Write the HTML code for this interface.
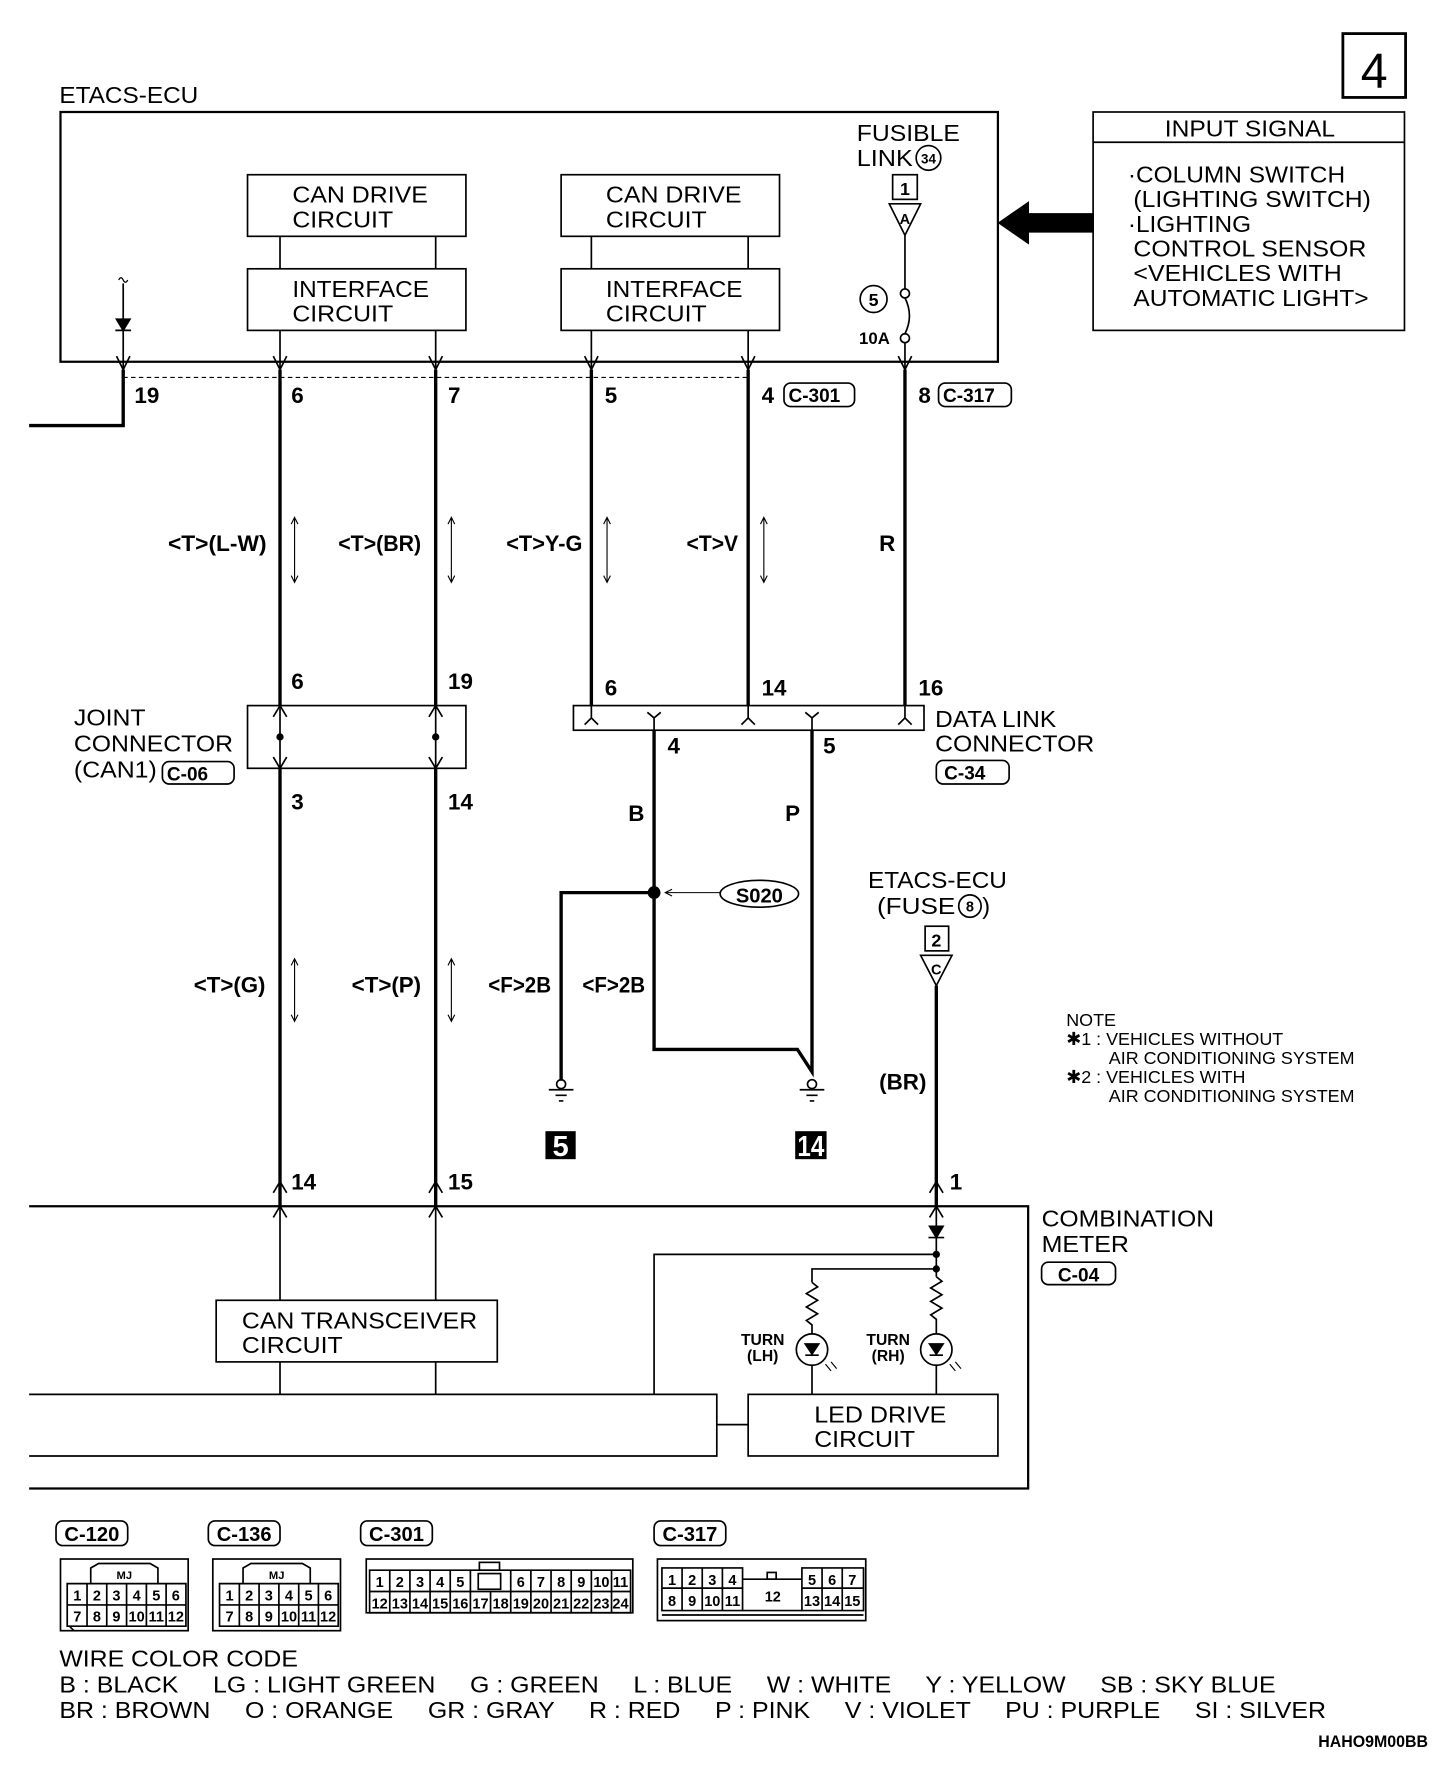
<!DOCTYPE html>
<html><head><meta charset="utf-8"><style>
html,body{margin:0;padding:0;background:#fff}
svg{display:block}
text{font-family:"Liberation Sans",sans-serif;fill:#000}
.b{font-weight:bold}
.pre{white-space:pre}
</style></head><body>
<svg width="1456" height="1768" viewBox="0 0 1300 1578.6" xmlns="http://www.w3.org/2000/svg">
<g fill="none" stroke="#000" stroke-width="1.5">
<rect x="1199" y="30" width="56" height="57" stroke-width="2.5"/>
<rect x="54" y="100" width="837" height="223" stroke-width="2"/>
<rect x="221" y="156" width="195" height="55"/>
<rect x="501" y="156" width="195" height="55"/>
<rect x="221" y="240" width="195" height="55"/>
<rect x="501" y="240" width="195" height="55"/>
<path d="M250 211V240M389 211V240M528 211V240M668 211V240"/>
<path d="M250 295V330M389 295V330M528 295V330M668 295V330M110 253V330"/>
<path d="M106 250q2-4 4 0t4 0" stroke-width="1.2"/>
<path d="M104 285h12l-6 10z" fill="#000"/><path d="M103 295h14"/>
<path d="M104 318L110 330L116 318M244 318L250 330L256 318M383 318L389 330L395 318M522 318L528 330L534 318M662 318L668 330L674 318M802 318L808 330L814 318"/>
<path d="M110 337H668" stroke-dasharray="4 3" stroke-width="1"/>
<rect x="797" y="156" width="22" height="22"/>
<path d="M794 182H822L808 210Z"/>
<path d="M808 210V258"/>
<circle cx="808" cy="262" r="4"/><circle cx="808" cy="302" r="4"/>
<path d="M808 266q8 16 0 32"/>
<path d="M808 306V330"/>
<circle cx="780" cy="267" r="12"/>
<circle cx="829" cy="141" r="11"/>
<rect x="976" y="100" width="278" height="195"/>
<path d="M976 127H1254"/>
<path d="M976 191H918V181L892 199L918 217V207H976Z" fill="#000"/>
<g stroke-width="3">
<path d="M110 330V380H26"/>
<path d="M250 330V630M389 330V630M528 330V630M668 330V630M808 330V630"/>
<path d="M250 686V1077M389 686V1077"/>
<path d="M584 652V937H712L725 957V652"/>
<path d="M584 797H501V965"/>
<path d="M836 880V1077"/>
</g>
<g stroke-width="1">
<path d="M263 462V520M260 468L263 462L266 468M260 514L263 520L266 514"/>
<path d="M403 462V520M400 468L403 462L406 468M400 514L403 520L406 514"/>
<path d="M542 462V520M539 468L542 462L545 468M539 514L542 520L545 514"/>
<path d="M682 462V520M679 468L682 462L685 468M679 514L682 520L685 514"/>
<path d="M263 856V912M260 862L263 856L266 862M260 906L263 912L266 906"/>
<path d="M403 856V912M400 862L403 856L406 862M400 906L403 912L406 906"/>
</g>
<rect x="700" y="342" width="63" height="21" rx="6"/>
<rect x="838" y="342" width="65" height="21" rx="6"/>
<rect x="221" y="630" width="195" height="56"/>
<path d="M244 640L250 630L256 640M383 640L389 630L395 640M244 676L250 686L256 676M383 676L389 686L395 676"/>
<path d="M250 630V686M389 630V686"/>
<circle cx="250" cy="658" r="2.5" fill="#000"/><circle cx="389" cy="658" r="2.5" fill="#000"/>
<rect x="145" y="680" width="64" height="20" rx="6"/>
<rect x="512" y="630" width="313" height="22"/>
<path d="M522 647L528 641L534 647M662 647L668 641L674 647M802 647L808 641L814 647M528 630V641M668 630V641M808 630V641"/>
<path d="M578 636L584 641L590 636M719 636L725 641L731 636M584 641V652M725 641V652"/>
<rect x="836" y="679" width="65" height="21" rx="6"/>
<circle cx="584" cy="797" r="5" fill="#000"/>
<path d="M595 797H643M600 794L594 797L600 800" stroke-width="1"/>
<ellipse cx="678" cy="798" rx="35" ry="12"/>
<circle cx="501" cy="968" r="4"/><path d="M490 973H512M496 978H506M499 983H503"/>
<circle cx="725" cy="968" r="4"/><path d="M714 973H736M720 978H730M723 983H727"/>
<circle cx="866" cy="809" r="10"/>
<rect x="826" y="827" width="21" height="22"/>
<path d="M822 853H850L836 880Z"/>
<path d="M26 1077H918V1329H26" stroke-width="2"/>
<path d="M244 1065L250 1055L256 1065M383 1065L389 1055L395 1065M830 1065L836 1055L842 1065"/>
<path d="M244 1087L250 1077L256 1087M383 1087L389 1077L395 1087M830 1087L836 1077L842 1087"/>
<path d="M250 1077V1161M389 1077V1161M250 1216V1245M389 1216V1245"/>
<rect x="193" y="1161" width="251" height="55"/>
<path d="M26 1245H640V1300H26"/>
<path d="M640 1272H668"/>
<rect x="668" y="1245" width="223" height="55"/>
<path d="M836 1077V1140"/>
<path d="M830 1095h12l-6 10z" fill="#000"/><path d="M829 1105h14"/>
<circle cx="836" cy="1120" r="2.5" fill="#000"/>
<circle cx="836" cy="1133" r="2.5" fill="#000"/>
<path d="M836 1120H584V1245M836 1133H725V1145"/>
<path d="M725 1145l5 4l-10 6l10 6l-10 6l10 6l-10 6l5 4V1191M836 1140l5 4l-10 6l10 6l-10 6l10 6l-10 6l5 4V1191"/>
<circle cx="725" cy="1205" r="14"/><circle cx="836" cy="1205" r="14"/>
<path d="M719 1200h12l-6 9z" fill="#000"/><path d="M719 1210h12"/>
<path d="M830 1200h12l-6 9z" fill="#000"/><path d="M830 1210h12"/>
<path d="M725 1219V1245M836 1219V1245"/>
<path d="M737 1218l5 6M742 1216l5 6M848 1218l5 6M853 1216l5 6" stroke-width="1"/>
<rect x="930" y="1127" width="66" height="20" rx="6"/>
<rect x="50" y="1358" width="64" height="22" rx="6"/>
<rect x="186" y="1358" width="64" height="22" rx="6"/>
<rect x="322" y="1358" width="64" height="22" rx="6"/>
<rect x="584" y="1358" width="64" height="22" rx="6"/>
<rect x="54" y="1392" width="114" height="64"/>
<path d="M60 1414H166V1452H60ZM60 1433H166M77.7 1414V1452M95.3 1414V1452M113 1414V1452M130.7 1414V1452M148.3 1414V1452M81 1414V1400L88 1396H134L141 1400V1414M62 1452L66 1456"/>
<rect x="190" y="1392" width="114" height="64"/>
<path d="M196 1414H302V1452H196ZM196 1433H302M213.7 1414V1452M231.3 1414V1452M249 1414V1452M266.7 1414V1452M284.3 1414V1452M217 1414V1400L224 1396H270L277 1400V1414"/>
<rect x="327" y="1392" width="238" height="48"/>
<path d="M330 1402H563V1440H330ZM330 1421H563"/>
<path d="M348 1402V1440M366 1402V1440M384 1402V1440M402 1402V1440M420 1402V1440M438 1421V1440M456 1402V1440M474 1402V1440M492 1402V1440M510 1402V1440M528 1402V1440M546 1402V1440"/>
<rect x="428" y="1395" width="18" height="7"/><rect x="427" y="1405" width="20" height="14"/>
<rect x="587" y="1392" width="186" height="55"/>
<path d="M591 1400H663V1438H591ZM591 1418H663M609 1400V1438M627 1400V1438M645 1400V1438"/>
<path d="M716 1400H771V1438H716ZM716 1418H771M734 1400V1438M752 1400V1438"/>
<path d="M663 1410H716M663 1438H716M591 1442H771"/>
<rect x="685" y="1404" width="8" height="6"/>
</g>
<rect x="487" y="1010" width="27" height="25" fill="#000"/>
<rect x="710" y="1010" width="28" height="25" fill="#000"/>
<text x="500.5" y="1032" font-size="26" class="b" text-anchor="middle" style="fill:#fff">5</text>
<text x="724" y="1032" font-size="26" class="b" text-anchor="middle" style="fill:#fff" textLength="24" lengthAdjust="spacingAndGlyphs">14</text>

<text x="1227" y="78" font-size="44" text-anchor="middle" textLength="24" lengthAdjust="spacingAndGlyphs">4</text>
<g font-size="21">
<text x="53" y="92" textLength="124" lengthAdjust="spacingAndGlyphs">ETACS-ECU</text>
<text x="261" y="181" textLength="121" lengthAdjust="spacingAndGlyphs">CAN DRIVE</text>
<text x="261" y="203" textLength="90" lengthAdjust="spacingAndGlyphs">CIRCUIT</text>
<text x="541" y="181" textLength="121" lengthAdjust="spacingAndGlyphs">CAN DRIVE</text>
<text x="541" y="203" textLength="90" lengthAdjust="spacingAndGlyphs">CIRCUIT</text>
<text x="261" y="265" textLength="122" lengthAdjust="spacingAndGlyphs">INTERFACE</text>
<text x="261" y="287" textLength="90" lengthAdjust="spacingAndGlyphs">CIRCUIT</text>
<text x="541" y="265" textLength="122" lengthAdjust="spacingAndGlyphs">INTERFACE</text>
<text x="541" y="287" textLength="90" lengthAdjust="spacingAndGlyphs">CIRCUIT</text>
<text x="765" y="126" textLength="92" lengthAdjust="spacingAndGlyphs">FUSIBLE</text>
<text x="765" y="148" textLength="50" lengthAdjust="spacingAndGlyphs">LINK</text>
<text x="1040" y="122" textLength="152" lengthAdjust="spacingAndGlyphs">INPUT SIGNAL</text>
<text x="1007" y="163" textLength="194" lengthAdjust="spacingAndGlyphs">·COLUMN SWITCH</text>
<text x="1012" y="185" textLength="212" lengthAdjust="spacingAndGlyphs">(LIGHTING SWITCH)</text>
<text x="1007" y="207" textLength="110" lengthAdjust="spacingAndGlyphs">·LIGHTING</text>
<text x="1012" y="229" textLength="208" lengthAdjust="spacingAndGlyphs">CONTROL SENSOR</text>
<text x="1012" y="251" textLength="186" lengthAdjust="spacingAndGlyphs">&lt;VEHICLES WITH</text>
<text x="1012" y="273" textLength="210" lengthAdjust="spacingAndGlyphs">AUTOMATIC LIGHT&gt;</text>
<text x="66" y="648" textLength="64" lengthAdjust="spacingAndGlyphs">JOINT</text>
<text x="66" y="671" textLength="142" lengthAdjust="spacingAndGlyphs">CONNECTOR</text>
<text x="66" y="694" textLength="74" lengthAdjust="spacingAndGlyphs">(CAN1)</text>
<text x="835" y="649" textLength="108" lengthAdjust="spacingAndGlyphs">DATA LINK</text>
<text x="835" y="671" textLength="142" lengthAdjust="spacingAndGlyphs">CONNECTOR</text>
<text x="775" y="793" textLength="124" lengthAdjust="spacingAndGlyphs">ETACS-ECU</text>
<text x="783" y="816" textLength="70" lengthAdjust="spacingAndGlyphs">(FUSE</text>
<text x="877" y="816">)</text>
<text x="930" y="1095" textLength="154" lengthAdjust="spacingAndGlyphs">COMBINATION</text>
<text x="930" y="1118" textLength="78" lengthAdjust="spacingAndGlyphs">METER</text>
<text x="216" y="1186" textLength="210" lengthAdjust="spacingAndGlyphs">CAN TRANSCEIVER</text>
<text x="216" y="1208" textLength="90" lengthAdjust="spacingAndGlyphs">CIRCUIT</text>
<text x="727" y="1270" textLength="118" lengthAdjust="spacingAndGlyphs">LED DRIVE</text>
<text x="727" y="1292" textLength="90" lengthAdjust="spacingAndGlyphs">CIRCUIT</text>
<text x="53" y="1488" textLength="213" lengthAdjust="spacingAndGlyphs">WIRE COLOR CODE</text>
<text class="pre" xml:space="preserve" x="53" y="1511" textLength="1086" lengthAdjust="spacingAndGlyphs">B : BLACK     LG : LIGHT GREEN     G : GREEN     L : BLUE     W : WHITE     Y : YELLOW     SB : SKY BLUE</text>
<text class="pre" xml:space="preserve" x="53" y="1534" textLength="1131" lengthAdjust="spacingAndGlyphs">BR : BROWN     O : ORANGE     GR : GRAY     R : RED     P : PINK     V : VIOLET     PU : PURPLE     SI : SILVER</text>
</g>
<g font-size="20" class="b">
<text x="120" y="360">19</text><text x="260" y="360">6</text><text x="400" y="360">7</text><text x="540" y="360">5</text><text x="680" y="360">4</text><text x="820" y="360">8</text>
<text x="704" y="359" font-size="17">C-301</text><text x="842" y="359" font-size="17">C-317</text>
<text x="238" y="492" text-anchor="end" textLength="88" lengthAdjust="spacingAndGlyphs">&lt;T&gt;(L-W)</text>
<text x="376" y="492" text-anchor="end" textLength="74" lengthAdjust="spacingAndGlyphs">&lt;T&gt;(BR)</text>
<text x="520" y="492" text-anchor="end" textLength="68" lengthAdjust="spacingAndGlyphs">&lt;T&gt;Y-G</text>
<text x="659" y="492" text-anchor="end" textLength="46" lengthAdjust="spacingAndGlyphs">&lt;T&gt;V</text>
<text x="785" y="492">R</text>
<text x="260" y="615">6</text><text x="400" y="615">19</text>
<text x="540" y="621">6</text><text x="680" y="621">14</text><text x="820" y="621">16</text>
<text x="149" y="697" font-size="17">C-06</text>
<text x="596" y="673">4</text><text x="735" y="673">5</text>
<text x="843" y="696" font-size="17">C-34</text>
<text x="260" y="723">3</text><text x="400" y="723">14</text>
<text x="561" y="733">B</text><text x="701" y="733">P</text>
<text x="678" y="806" text-anchor="middle" font-size="18">S020</text>
<text x="237" y="886" text-anchor="end" textLength="64" lengthAdjust="spacingAndGlyphs">&lt;T&gt;(G)</text>
<text x="376" y="886" text-anchor="end" textLength="62" lengthAdjust="spacingAndGlyphs">&lt;T&gt;(P)</text>
<text x="436" y="886" textLength="56" lengthAdjust="spacingAndGlyphs">&lt;F&gt;2B</text>
<text x="520" y="886" textLength="56" lengthAdjust="spacingAndGlyphs">&lt;F&gt;2B</text>
<text x="785" y="973">(BR)</text>
<text x="260" y="1062">14</text><text x="400" y="1062">15</text><text x="848" y="1062">1</text>
<text x="963" y="1144" text-anchor="middle" font-size="17">C-04</text>
<text x="82" y="1376" text-anchor="middle" font-size="18">C-120</text>
<text x="218" y="1376" text-anchor="middle" font-size="18">C-136</text>
<text x="354" y="1376" text-anchor="middle" font-size="18">C-301</text>
<text x="616" y="1376" text-anchor="middle" font-size="18">C-317</text>
<text x="1275" y="1560" text-anchor="end" font-size="15" textLength="98" lengthAdjust="spacingAndGlyphs">HAHO9M00BB</text>
</g>
<g font-size="16" class="b">
<text x="808" y="174" text-anchor="middle">1</text>
<text x="808" y="200" text-anchor="middle" font-size="13">A</text>
<text x="780" y="273" text-anchor="middle">5</text>
<text x="829" y="146" text-anchor="middle" font-size="12">34</text>
<text x="767" y="307" font-size="15">10A</text>
<text x="866" y="814" text-anchor="middle" font-size="13">8</text>
<text x="836" y="845" text-anchor="middle">2</text>
<text x="836" y="870" text-anchor="middle" font-size="13">C</text>
<text x="681" y="1201" text-anchor="middle" font-size="14">TURN</text>
<text x="681" y="1215" text-anchor="middle" font-size="14">(LH)</text>
<text x="793" y="1201" text-anchor="middle" font-size="14">TURN</text>
<text x="793" y="1215" text-anchor="middle" font-size="14">(RH)</text>
</g>
<g font-size="16">
<text x="952" y="916">NOTE</text>
<text x="952" y="933">✱1 : VEHICLES WITHOUT</text>
<text x="990" y="950">AIR CONDITIONING SYSTEM</text>
<text x="952" y="967">✱2 : VEHICLES WITH</text>
<text x="990" y="984">AIR CONDITIONING SYSTEM</text>
</g>
<g font-size="13" class="b" text-anchor="middle">
<text x="111" y="1410" font-size="10">MJ</text><text x="247" y="1410" font-size="10">MJ</text>
<text x="69" y="1429">1</text><text x="86.5" y="1429">2</text><text x="104" y="1429">3</text><text x="122" y="1429">4</text><text x="139.5" y="1429">5</text><text x="157" y="1429">6</text>
<text x="69" y="1448">7</text><text x="86.5" y="1448">8</text><text x="104" y="1448">9</text><text x="122" y="1448">10</text><text x="139.5" y="1448">11</text><text x="157" y="1448">12</text>
<text x="205" y="1429">1</text><text x="222.5" y="1429">2</text><text x="240" y="1429">3</text><text x="258" y="1429">4</text><text x="275.5" y="1429">5</text><text x="293" y="1429">6</text>
<text x="205" y="1448">7</text><text x="222.5" y="1448">8</text><text x="240" y="1448">9</text><text x="258" y="1448">10</text><text x="275.5" y="1448">11</text><text x="293" y="1448">12</text>
<text x="339" y="1417">1</text><text x="357" y="1417">2</text><text x="375" y="1417">3</text><text x="393" y="1417">4</text><text x="411" y="1417">5</text>
<text x="465" y="1417">6</text><text x="483" y="1417">7</text><text x="501" y="1417">8</text><text x="519" y="1417">9</text><text x="537" y="1417">10</text><text x="554" y="1417">11</text>
<text x="339" y="1436">12</text><text x="357" y="1436">13</text><text x="375" y="1436">14</text><text x="393" y="1436">15</text><text x="411" y="1436">16</text><text x="429" y="1436">17</text><text x="447" y="1436">18</text><text x="465" y="1436">19</text><text x="483" y="1436">20</text><text x="501" y="1436">21</text><text x="519" y="1436">22</text><text x="537" y="1436">23</text><text x="554" y="1436">24</text>
<text x="600" y="1415">1</text><text x="618" y="1415">2</text><text x="636" y="1415">3</text><text x="654" y="1415">4</text>
<text x="600" y="1434">8</text><text x="618" y="1434">9</text><text x="636" y="1434">10</text><text x="654" y="1434">11</text>
<text x="690" y="1430">12</text>
<text x="725" y="1415">5</text><text x="743" y="1415">6</text><text x="761" y="1415">7</text>
<text x="725" y="1434">13</text><text x="743" y="1434">14</text><text x="761" y="1434">15</text>
</g>
</svg>
</body></html>
